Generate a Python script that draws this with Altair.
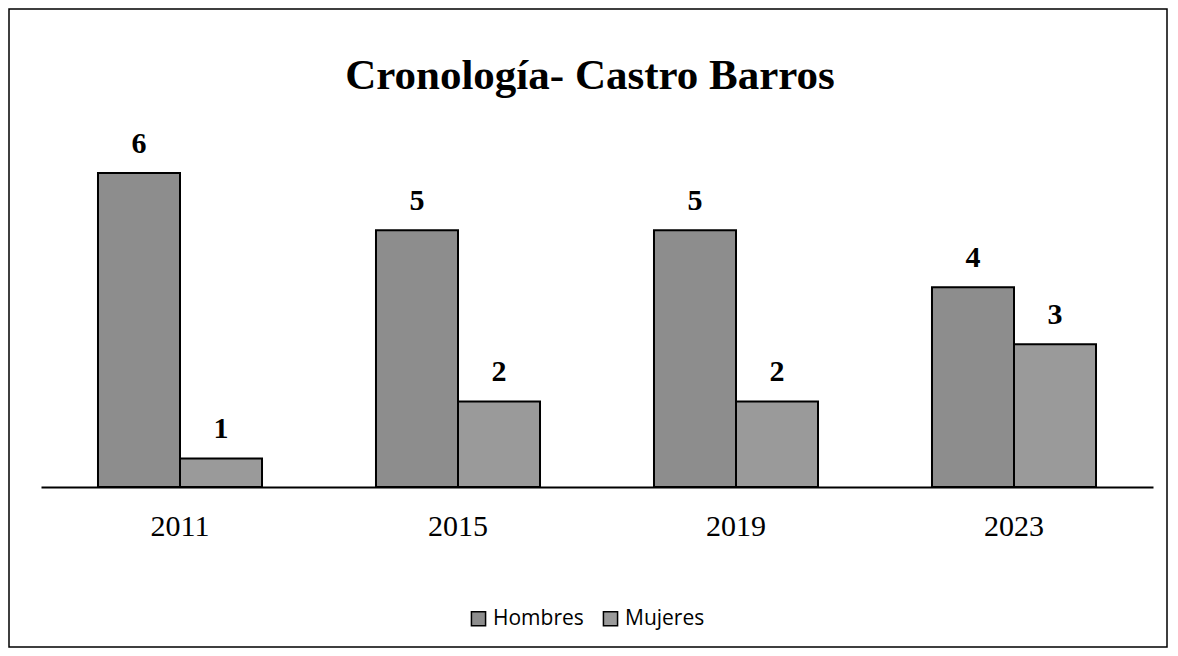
import altair as alt
import pandas as pd

years = ["2011", "2015", "2019", "2023"]
hombres = [6, 5, 5, 4]
mujeres = [1, 2, 2, 3]
series = ["Hombres", "Mujeres"]
title_text = "Cronología- Castro Barros"

rows = []
for i, y in enumerate(years):
    rows.append({"year": y, "serie": "Hombres", "v": hombres[i]})
    rows.append({"year": y, "serie": "Mujeres", "v": mujeres[i]})
df = pd.DataFrame(rows)

W, H = 1112, 371
PL, PT, PR, PB = 33, 108, 15, 161

x = alt.X("year:N", sort=years, title=None,
          scale=alt.Scale(paddingInner=0.41, paddingOuter=0.205),
          axis=alt.Axis(labelAngle=0, ticks=False, labelFont="Liberation Serif",
                        labelFontSize=30, labelColor="black", labelPadding=24,
                        domainColor="black", domainWidth=2, grid=False))
xo = alt.XOffset("serie:N", sort=series, scale=alt.Scale(paddingInner=0, paddingOuter=0))
y = alt.Y("v:Q", scale=alt.Scale(domain=[0.5, 7.0], nice=False, zero=False), axis=None)

bars = alt.Chart(df).mark_bar(stroke="black", strokeWidth=2).encode(
    x=x, xOffset=xo, y=y, y2=alt.datum(0.5),
    color=alt.Color("serie:N", sort=series, title=None,
                    scale=alt.Scale(domain=series, range=["#8d8d8d", "#9a9a9a"]),
                    legend=alt.Legend(orient="none", legendX=427, legendY=492,
                                      direction="horizontal", symbolType="square",
                                      symbolSize=200, symbolStrokeColor="black",
                                      symbolStrokeWidth=1.5, labelFont="Open Sans",
                                      labelFontSize=21, labelColor="black",
                                      columnPadding=16, symbolOffset=0)),
)

labels = alt.Chart(df).mark_text(dy=-29, font="Liberation Serif", fontWeight="bold",
                                 fontSize=30, color="black").encode(
    x=x, xOffset=xo, y=y, text="v:Q")

title_df = pd.DataFrame({"t": [title_text]})
title = alt.Chart(title_df).mark_text(font="Liberation Serif", fontWeight="bold",
                                      fontSize=43, color="black", align="center",
                                      baseline="alphabetic").encode(
    x=alt.value(549), y=alt.value(-27), text="t:N")

frame_df = pd.DataFrame({"f": [1]})
frame = alt.Chart(frame_df).mark_rect(fill=None, stroke="black", strokeWidth=1.5).encode(
    x=alt.value(-PL + 1), x2=alt.value(W + PR - 1),
    y=alt.value(-PT + 1), y2=alt.value(H + PB - 1))

chart = alt.layer(bars, labels, title, frame).properties(
    width=W, height=H,
    background="white",
    autosize=alt.AutoSizeParams(type="none"),
    padding={"left": PL, "top": PT, "right": PR, "bottom": PB},
).configure_view(stroke="transparent", strokeWidth=0)

chart.save("out.html", embed_options={"renderer": "svg", "actions": False})
